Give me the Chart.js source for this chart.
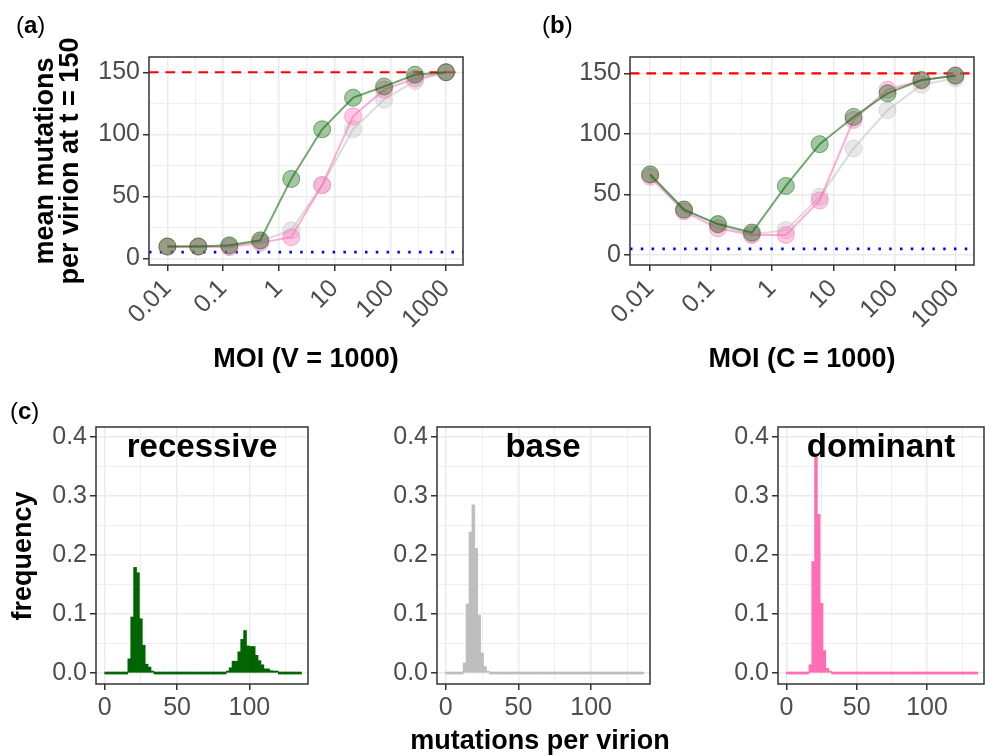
<!DOCTYPE html>
<html>
<head>
<meta charset="utf-8">
<script src="https://cdn.jsdelivr.net/npm/chart.js@4.4.1/dist/chart.umd.min.js"></script>
<style>
  body { margin: 0; background: #fff; width: 985px; height: 756px; position: relative; overflow: hidden;
         font-family: "Liberation Sans", Arial, sans-serif; }
  canvas { position: absolute; }
  .t { position: absolute; white-space: nowrap; line-height: 1; color: #000; }
  .b { font-weight: bold; }
  .c { transform: translateX(-50%); }
  .rot { transform: translate(-50%, -50%) rotate(-90deg); text-align: center; }
</style>
</head>
<body>
<canvas id="chart-v" width="480" height="400" style="left:0;top:0"></canvas>
<canvas id="chart-c" width="495" height="400" style="left:490px;top:0"></canvas>
<canvas id="hist-rec" width="320" height="356" style="left:0;top:400px"></canvas>
<canvas id="hist-base" width="330" height="356" style="left:330px;top:400px"></canvas>
<canvas id="hist-dom" width="315" height="356" style="left:670px;top:400px"></canvas>

<div class="t" style="left:16px;top:13px;font-size:24px">(<b>a</b>)</div>
<div class="t" style="left:542px;top:13px;font-size:24px">(<b>b</b>)</div>
<div class="t" style="left:10px;top:399px;font-size:24px">(<b>c</b>)</div>

<div class="t b rot" style="left:57px;top:161px;font-size:27px;line-height:25px">mean mutations<br>per virion at t = 150</div>
<div class="t b c" style="left:306px;top:345px;font-size:27px">MOI (V = 1000)</div>
<div class="t b c" style="left:802px;top:345px;font-size:27px">MOI (C = 1000)</div>

<div class="t b rot" style="left:22px;top:556px;font-size:27px">frequency</div>
<div class="t b c" style="left:540px;top:727px;font-size:27px">mutations per virion</div>
<div class="t b c" style="left:202px;top:429px;font-size:33px">recessive</div>
<div class="t b c" style="left:543px;top:429px;font-size:33px">base</div>
<div class="t b c" style="left:881px;top:429px;font-size:33px">dominant</div>

<script>
// MOI levels used in panels (a) and (b)
const moi = [0.01, 0.0359, 0.129, 0.464, 1.67, 5.99, 21.5, 77.4, 278, 1000];
const moiTicks = [0.01, 0.1, 1, 10, 100, 1000];
const moiTickLabels = ['0.01', '0.1', '1', '10', '100', '1000'];
const moiMinor = [0.0316, 0.316, 3.16, 31.6, 316];
const moiRange = [0.00468, 2018];

// (a) V = 1000
const recessiveV = [9.5, 9.5, 10.5, 14.5, 64, 104, 129.5, 138.5, 148, 150];
const baseV      = [9.5, 9.5, 10, 14, 22.5, 59, 104, 128, 143, 150];
const dominantV  = [9.5, 9.5, 9, 12.5, 17, 59, 114.5, 136, 145, 150];

// (b) C = 1000
const recessiveC = [66.5, 37.5, 25.5, 18.5, 57, 91.5, 114, 133.5, 144.5, 148];
const baseC      = [66.5, 37.5, 25, 17, 20.5, 48, 88, 119.5, 140.5, 146];
const dominantC  = [64.5, 36, 22, 16.5, 16.5, 45, 111.5, 136.5, 144, 148.5];

const maxMutations = 150;
const startMutations = 5;
const mutTicks = [0, 50, 100, 150];
const mutTickLabels = ['0', '50', '100', '150'];
const mutMinor = [25, 75, 125];

// (c) histograms, bins of width 2
const binMids = [1, 3, 5, 7, 9, 11, 13, 15, 17, 19, 21, 23, 25, 27, 29, 31, 33, 35, 37, 39,
  41, 43, 45, 47, 49, 51, 53, 55, 57, 59, 61, 63, 65, 67, 69, 71, 73, 75, 77, 79,
  81, 83, 85, 87, 89, 91, 93, 95, 97, 99, 101, 103, 105, 107, 109, 111, 113, 115, 117, 119,
  121, 123, 125, 127, 129, 131, 133, 135];
const freqRecessive = [
  0, 0, 0, 0, 0, 0, 0, 0, 0.024, 0.095,
  0.179, 0.170, 0.092, 0.047, 0.015, 0.010, 0.003, 0, 0, 0,
  0, 0, 0, 0, 0, 0, 0, 0, 0, 0,
  0, 0, 0, 0, 0, 0, 0, 0, 0, 0,
  0, 0, 0.002, 0.009, 0.020, 0.020, 0.036, 0.057, 0.072, 0.046,
  0.045, 0.045, 0.030, 0.021, 0.014, 0.007, 0.007, 0.004, 0.003, 0.003,
  0, 0, 0, 0, 0, 0, 0, 0];
const freqBase = [
  0, 0, 0, 0, 0, 0, 0.017, 0.117, 0.239, 0.285,
  0.211, 0.098, 0.034, 0.011, 0.003, 0, 0, 0, 0, 0,
  0, 0, 0, 0, 0, 0, 0, 0, 0, 0,
  0, 0, 0, 0, 0, 0, 0, 0, 0, 0,
  0, 0, 0, 0, 0, 0, 0, 0, 0, 0,
  0, 0, 0, 0, 0, 0, 0, 0, 0, 0,
  0, 0, 0, 0, 0, 0, 0, 0];
const freqDominant = [
  0, 0, 0, 0, 0, 0, 0, 0, 0.014, 0.189,
  0.366, 0.269, 0.118, 0.038, 0.008, 0.003, 0, 0, 0, 0,
  0, 0, 0, 0, 0, 0, 0, 0, 0, 0,
  0, 0, 0, 0, 0, 0, 0, 0, 0, 0,
  0, 0, 0, 0, 0, 0, 0, 0, 0, 0,
  0, 0, 0, 0, 0, 0, 0, 0, 0, 0,
  0, 0, 0, 0, 0, 0, 0, 0];
const freqTicks = [0, 0.1, 0.2, 0.3, 0.4];
const freqTickLabels = ['0.0', '0.1', '0.2', '0.3', '0.4'];
const freqMinor = [0.05, 0.15, 0.25, 0.35];
const binTicks = [0, 50, 100];
const binTickLabels = ['0', '50', '100'];
const binMinor = [25, 75, 125];

const FONT = '"Liberation Sans", Arial, sans-serif';
const GREEN = '0,100,0', GREY = '190,190,190', PINK = '255,105,180';

// panel border drawn over the data, like ggplot's panel.border
const frame = {
  id: 'frame',
  afterDatasetsDraw(chart) {
    const a = chart.chartArea, ctx = chart.ctx;
    ctx.save();
    ctx.strokeStyle = '#333333';
    ctx.lineWidth = 1.5;
    ctx.strokeRect(a.left, a.top, a.right - a.left, a.bottom - a.top);
    ctx.restore();
  }
};

function tickList(major, labels, minor) {
  const out = major.map((v, i) => ({ value: v, main: true, text: labels[i] }));
  minor.forEach(v => out.push({ value: v, main: false, text: '' }));
  return out.sort((a, b) => a.value - b.value);
}

function axis(list, size, extra, rotate) {
  return Object.assign({
    afterBuildTicks: s => { s.ticks = list.map(t => Object.assign({}, t)); },
    afterFit: s => { if (s.isHorizontal()) s.height = size; else s.width = size; },
    grid: {
      color: '#EBEBEB',
      lineWidth: c => (c.tick && c.tick.main ? 1.5 : 0.8),
      tickColor: c => (c.tick && c.tick.main ? '#333333' : 'rgba(0,0,0,0)'),
      tickWidth: 1.5,
      tickLength: 6,
      offset: false
    },
    border: { display: false },
    ticks: {
      autoSkip: false,
      color: '#4D4D4D',
      font: { family: FONT, size: 25 },
      padding: 3,
      minRotation: rotate || 0,
      maxRotation: rotate || 0,
      callback: (v, i, t) => t[i].text
    }
  }, extra);
}

function series(vals, rgb, order) {
  return {
    data: moi.map((m, i) => ({ x: m, y: vals[i] })),
    borderColor: `rgba(${rgb},0.55)`,
    borderWidth: 2,
    pointRadius: 8.5,
    pointBackgroundColor: `rgba(${rgb},0.36)`,
    pointBorderColor: `rgba(${rgb},0.5)`,
    pointBorderWidth: 1,
    order: order
  };
}

function refLine(y, color, dash, width) {
  return {
    data: [{ x: moiRange[0], y: y }, { x: moiRange[1], y: y }],
    borderColor: color,
    borderDash: dash,
    borderWidth: width,
    pointRadius: 0,
    order: 10
  };
}

function moiChart(id, rec, base, dom, yMin, yMax, yWidth, right) {
  new Chart(document.getElementById(id), {
    type: 'line',
    data: {
      datasets: [
        refLine(maxMutations, '#FF0000', [9.5, 7], 2.2),
        refLine(startMutations, '#0000FF', [2.5, 8.3], 2.6),
        series(base, GREY, 3),
        series(dom, PINK, 2),
        series(rec, GREEN, 1)
      ]
    },
    options: {
      responsive: false,
      animation: false,
      devicePixelRatio: 1,
      layout: { padding: { top: 57, right: right, left: 0, bottom: 0 } },
      plugins: { legend: { display: false }, tooltip: { enabled: false } },
      scales: {
        x: axis(tickList(moiTicks, moiTickLabels, moiMinor), 135,
          { type: 'logarithmic', min: moiRange[0], max: moiRange[1] }, 45),
        y: axis(tickList(mutTicks, mutTickLabels, mutMinor), yWidth,
          { type: 'linear', min: yMin, max: yMax })
      }
    },
    plugins: [frame]
  });
}

function histChart(id, freq, color, yWidth, right) {
  new Chart(document.getElementById(id), {
    type: 'bar',
    data: {
      datasets: [{
        data: binMids.map((m, i) => ({ x: m, y: freq[i] })),
        backgroundColor: color,
        borderWidth: 0,
        barPercentage: 1,
        categoryPercentage: 1,
        minBarLength: 2
      }]
    },
    options: {
      responsive: false,
      animation: false,
      devicePixelRatio: 1,
      layout: { padding: { top: 27, right: right, left: 0, bottom: 0 } },
      plugins: { legend: { display: false }, tooltip: { enabled: false } },
      scales: {
        x: axis(tickList(binTicks, binTickLabels, binMinor), 72,
          { type: 'linear', min: -6, max: 140.5, offset: false }),
        y: axis(tickList(freqTicks, freqTickLabels, freqMinor), yWidth,
          { type: 'linear', min: -0.0186, max: 0.417, beginAtZero: true })
      }
    },
    plugins: [frame]
  });
}

moiChart('chart-v', recessiveV, baseV, dominantV, -5.4, 162.3, 149, 17);
moiChart('chart-c', recessiveC, baseC, dominantC, -8.3, 163.5, 140, 11);
histChart('hist-rec', freqRecessive, '#006400', 96, 12);
histChart('hist-base', freqBase, '#BEBEBE', 107, 10);
histChart('hist-dom', freqDominant, '#FF6EB4', 108, 1);
</script>
</body>
</html>
